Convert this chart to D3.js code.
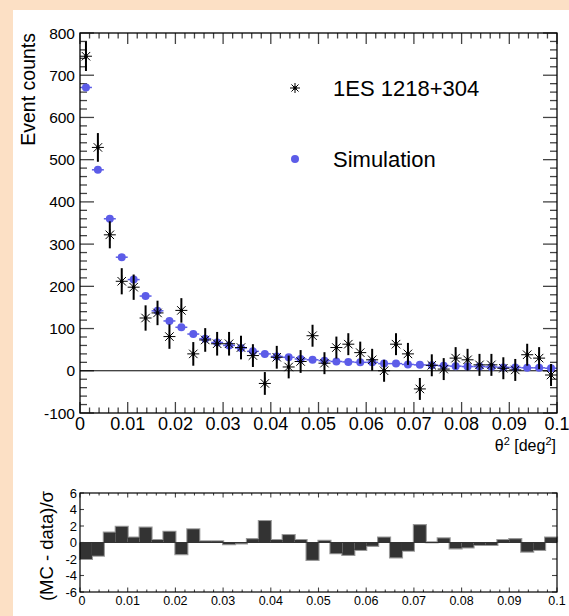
<!DOCTYPE html>
<html>
<head>
<meta charset="utf-8">
<script src="https://cdn.jsdelivr.net/npm/d3@7"></script>
<style>
  body { margin: 0; background: #fce0c5; }
  svg { display: block; font-family: "Liberation Sans", Arial, Helvetica, sans-serif; }
</style>
</head>
<body>
<svg width="569" height="616"></svg>
<script>
// theta^2 histogram, 40 bins of 0.0025 deg^2
var binWidth = 0.0025;
var dataCounts = [745, 529, 322, 212, 198, 125, 137, 81, 143, 40,
                  73, 64, 64, 55, 36, -30, 32, 9, 22, 83,
                  18, 55, 63, 43, 26, 0, 63, 40, -43, 13,
                  4, 30, 26, 14, 14, 6, 2, 38, 30, -10];
var dataErr = [35, 34, 32, 31, 30, 30, 29, 29, 29, 28,
               28, 28, 28, 28, 27, 27, 27, 27, 27, 26,
               26, 26, 26, 26, 26, 26, 26, 26, 26, 26,
               26, 26, 26, 26, 26, 26, 26, 26, 26, 26];
var simCounts = [671, 476, 360, 269, 216, 177, 142, 118, 103, 87,
                 76, 67, 60, 54, 46, 40, 34, 32, 28, 26,
                 24, 22, 21, 20, 20, 17, 17, 15, 14, 13,
                 12, 11, 10, 10, 9, 8, 8, 7, 7, 6];
var residuals = [-2.0, -1.6, 1.2, 1.9, 0.6, 1.8, 0.3, 1.3, -1.4, 1.6,
                 0.15, 0.15, -0.2, -0.1, 0.4, 2.6, 0.3, 0.9, 0.3, -2.1,
                 0.2, -1.3, -1.5, -0.9, -0.4, 0.6, -1.8, -1.0, 2.1, 0.03,
                 0.5, -0.7, -0.6, -0.3, -0.3, 0.3, 0.4, -1.1, -0.9, 0.6];
var xTickLabels = ["0", "0.01", "0.02", "0.03", "0.04", "0.05", "0.06", "0.07", "0.08", "0.09", "0.1"];
var yTicksTop = [-100, 0, 100, 200, 300, 400, 500, 600, 700, 800];
var yTicksBottom = [-6, -4, -2, 0, 2, 4, 6];

var svg = d3.select("svg");
var blue = "#5c5ce8";

// white canvas
svg.append("rect").attr("x", 13).attr("y", 10).attr("width", 556).attr("height", 606).attr("fill", "#fff");

var x = d3.scaleLinear().domain([0, 0.1]).range([80, 557]);
var y = d3.scaleLinear().domain([-100, 800]).range([413, 33]);
var yr = d3.scaleLinear().domain([-6, 6]).range([592, 493]);

var bins = d3.range(dataCounts.length).map(function (i) {
    return {
        lo: i * binWidth, hi: (i + 1) * binWidth, c: (i + 0.5) * binWidth,
        data: dataCounts[i], err: dataErr[i], sim: simCounts[i], res: residuals[i]
    };
});

// ---------- ticks helper (ROOT style, inside frame on all sides)
function drawTicks(g, xs, ys, xMaj, xMin, yMajL, yMinL, yMajR, yMinR, top, bottom, left, right) {
    var xMinor = d3.range(0, 0.1001, 0.002);
    xMinor.forEach(function (v, i) {
        var len = (i % 5 === 0) ? xMaj : xMin;
        var px = xs(v);
        g.append("line").attr("x1", px).attr("x2", px).attr("y1", bottom).attr("y2", bottom - len);
        g.append("line").attr("x1", px).attr("x2", px).attr("y1", top).attr("y2", top + len);
    });
    ys.forEach(function (t) {
        var py = t.y;
        g.append("line").attr("x1", left).attr("x2", left + (t.major ? yMajL : yMinL)).attr("y1", py).attr("y2", py);
        g.append("line").attr("x1", right).attr("x2", right - (t.major ? yMajR : yMinR)).attr("y1", py).attr("y2", py);
    });
}

// ---------- top panel
var topG = svg.append("g");
var topTicks = d3.range(-100, 801, 20).map(function (v) { return { y: y(v), major: v % 100 === 0 }; });
var tg = topG.append("g").attr("stroke", "#444").attr("stroke-width", 1.3);
drawTicks(tg, x, topTicks, 11, 5.5, 14, 7, 14, 7, 33, 413, 80, 557);

// zero line
topG.append("line").attr("x1", x(0)).attr("x2", x(0.1)).attr("y1", y(0)).attr("y2", y(0))
    .attr("stroke", "#000").attr("stroke-width", 1);

// simulation: horizontal bin-width bars + dots
var simG = topG.append("g");
simG.selectAll("line").data(bins).enter().append("line")
    .attr("x1", function (d) { return x(d.lo); })
    .attr("x2", function (d) { return x(d.hi); })
    .attr("y1", function (d) { return y(d.sim); })
    .attr("y2", function (d) { return y(d.sim); })
    .attr("stroke", blue).attr("stroke-width", 1.5);
simG.selectAll("circle").data(bins).enter().append("circle")
    .attr("cx", function (d) { return x(d.c); })
    .attr("cy", function (d) { return y(d.sim); })
    .attr("r", 4).attr("fill", blue);

// data: error bars + asterisk markers
function star(g, cx, cy, s) {
    var d = s * 0.707;
    g.append("path")
        .attr("d", "M" + (cx - s) + "," + cy + "H" + (cx + s) +
                   "M" + cx + "," + (cy - s) + "V" + (cy + s) +
                   "M" + (cx - d) + "," + (cy - d) + "L" + (cx + d) + "," + (cy + d) +
                   "M" + (cx - d) + "," + (cy + d) + "L" + (cx + d) + "," + (cy - d))
        .attr("stroke", "#000").attr("stroke-width", 1).attr("fill", "none");
    g.append("circle").attr("cx", cx).attr("cy", cy).attr("r", 1.8).attr("fill", "#000");
}
var dataG = topG.append("g");
bins.forEach(function (d) {
    dataG.append("line")
        .attr("x1", x(d.c)).attr("x2", x(d.c))
        .attr("y1", y(d.data - d.err)).attr("y2", y(d.data + d.err))
        .attr("stroke", "#000").attr("stroke-width", 2);
    star(dataG, x(d.c), y(d.data), 6);
});

// frame
topG.append("rect").attr("x", 80).attr("y", 33).attr("width", 477).attr("height", 380)
    .attr("fill", "none").attr("stroke", "#000").attr("stroke-width", 1.3);

// labels
topG.selectAll("text.yl").data(yTicksTop).enter().append("text")
    .attr("x", 75).attr("y", function (d) { return y(d) + 5.5; })
    .attr("text-anchor", "end").attr("font-size", 15.5).text(function (d) { return d; });
topG.selectAll("text.xl").data(xTickLabels).enter().append("text")
    .attr("x", function (d, i) { return x(i * 0.01); }).attr("y", 430)
    .attr("text-anchor", "middle").attr("font-size", 18).text(function (d) { return d; });

topG.append("text").attr("transform", "translate(35,33) rotate(-90)")
    .attr("text-anchor", "end").attr("font-size", 19.5).text("Event counts");

var xt = topG.append("text").attr("x", 556).attr("y", 451).attr("text-anchor", "end").attr("font-size", 16);
xt.append("tspan").text("θ");
xt.append("tspan").attr("dy", -6).attr("font-size", 11).text("2");
xt.append("tspan").attr("dy", 6).text(" [deg");
xt.append("tspan").attr("dy", -6).attr("font-size", 11).text("2");
xt.append("tspan").attr("dy", 6).text("]");

// legend
star(topG, 295, 88, 5);
topG.append("text").attr("x", 333).attr("y", 96).attr("font-size", 22).text("1ES 1218+304");
topG.append("circle").attr("cx", 295).attr("cy", 159).attr("r", 4).attr("fill", blue);
topG.append("text").attr("x", 333).attr("y", 167).attr("font-size", 22).text("Simulation");

// ---------- bottom panel (residuals)
var bot = svg.append("g");
var botTicks = yTicksBottom.map(function (v) { return { y: yr(v), major: true }; });
var bg = bot.append("g").attr("stroke", "#444").attr("stroke-width", 1.1);
drawTicks(bg, x, botTicks, 4.5, 2.5, 4, 2, 5, 2, 493, 592, 80, 557);

// histogram outline (light grey) then dark fill
var step = "M" + x(0) + "," + yr(0);
bins.forEach(function (d) { step += "V" + yr(d.res) + "H" + x(d.hi); });
step += "V" + yr(0);
bot.append("path").attr("d", step).attr("fill", "none").attr("stroke", "#999").attr("stroke-width", 2.2);
bot.selectAll("rect.bar").data(bins).enter().append("rect")
    .attr("x", function (d) { return x(d.lo); })
    .attr("width", function (d) { return x(d.hi) - x(d.lo); })
    .attr("y", function (d) { return Math.min(yr(d.res), yr(0)); })
    .attr("height", function (d) { return Math.max(Math.abs(yr(d.res) - yr(0)), 0.8); })
    .attr("fill", "#333");
bot.append("line").attr("x1", x(0)).attr("x2", x(0.1)).attr("y1", yr(0)).attr("y2", yr(0))
    .attr("stroke", "#333").attr("stroke-width", 1);

bot.append("rect").attr("x", 80).attr("y", 493).attr("width", 477).attr("height", 99)
    .attr("fill", "none").attr("stroke", "#000").attr("stroke-width", 1.2);

bot.selectAll("text.yl").data(yTicksBottom).enter().append("text")
    .attr("x", 77).attr("y", function (d) { return yr(d) + 4.5; })
    .attr("text-anchor", "end").attr("font-size", 13).text(function (d) { return d; });
bot.selectAll("text.xl").data(xTickLabels).enter().append("text")
    .attr("x", function (d, i) { return x(i * 0.01) + (i === 0 ? 2 : 0); }).attr("y", 605)
    .attr("text-anchor", "middle").attr("font-size", 12.5).text(function (d) { return d; });

bot.append("text").attr("transform", "translate(53,491) rotate(-90)")
    .attr("text-anchor", "end").attr("font-size", 18.5).text("(MC - data)/σ");
</script>
</body>
</html>
